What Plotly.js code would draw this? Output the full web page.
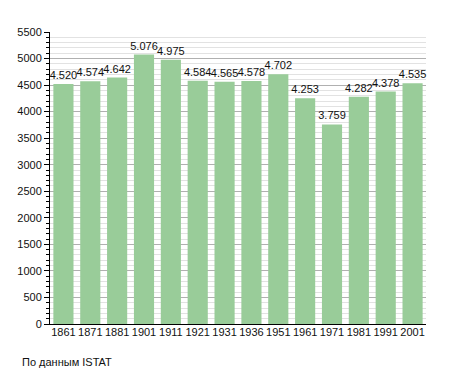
<!DOCTYPE html>
<html>
<head>
<meta charset="utf-8">
<script src="https://cdn.plot.ly/plotly-3.0.1.min.js"></script>
<style>html,body{margin:0;padding:0;background:#fff;}#chart{width:455px;height:373px;}</style>
</head>
<body>
<div id="chart"></div>
<script>
const years = ["1861","1871","1881","1901","1911","1921","1931","1936","1951","1961","1971","1981","1991","2001"];
const population = [4520,4574,4642,5076,4975,4584,4565,4578,4702,4253,3759,4282,4378,4535];
const yTicks = [0,500,1000,1500,2000,2500,3000,3500,4000,4500,5000,5500];
const sourceNote = "По данным ISTAT";

const fontFam = "Liberation Sans, Arial, sans-serif";
const txtColor = '#111';
const trace = {
  type: 'bar',
  x: years,
  y: population,
  marker: {color: '#99cc99', line: {width: 0}},
  texttemplate: '%{y:,}',
  textposition: 'outside',
  constraintext: 'none',
  cliponaxis: false,
  textfont: {family: fontFam, size: 11, color: txtColor},
  hoverinfo: 'none'
};
const layout = {
  width: 455, height: 373,
  margin: {l: 50, r: 29, t: 32, b: 49},
  separators: ',.',
  paper_bgcolor: '#fff', plot_bgcolor: '#fff',
  bargap: 0.25,
  showlegend: false,
  font: {family: fontFam, size: 11, color: txtColor},
  xaxis: {
    type: 'category',
    showline: true, linecolor: '#000', linewidth: 1,
    ticks: '', showgrid: false,
    ticklabelstandoff: -2,
    tickfont: {family: fontFam, size: 11, color: txtColor}
  },
  yaxis: {
    range: [0, 5500],
    tickvals: yTicks,
    ticktext: yTicks.map(String),
    showline: true, linecolor: '#000', linewidth: 1,
    ticks: 'outside', ticklen: 5, tickcolor: '#000',
    showgrid: true, gridcolor: '#b0b0b0', gridwidth: 1,
    zeroline: false,
    tickfont: {family: fontFam, size: 11, color: txtColor},
    minor: {dtick: 100, tick0: 0, showgrid: true, gridcolor: '#e2e2e2', gridwidth: 1, ticks: 'outside', ticklen: 3, tickcolor: '#000'}
  },
  annotations: [{
    text: sourceNote, xref: 'paper', yref: 'paper', x: 0, y: 0,
    xanchor: 'left', yanchor: 'top', showarrow: false,
    font: {family: fontFam, size: 11, color: txtColor}
  }]
};
const plotW = 455 - 50 - 29, plotH = 373 - 32 - 49;
layout.annotations[0].x = (20 - 50) / plotW;
layout.annotations[0].y = (324 - 354) / plotH;
Plotly.newPlot('chart', [trace], layout, {staticPlot: true, displayModeBar: false});
</script>
</body>
</html>
